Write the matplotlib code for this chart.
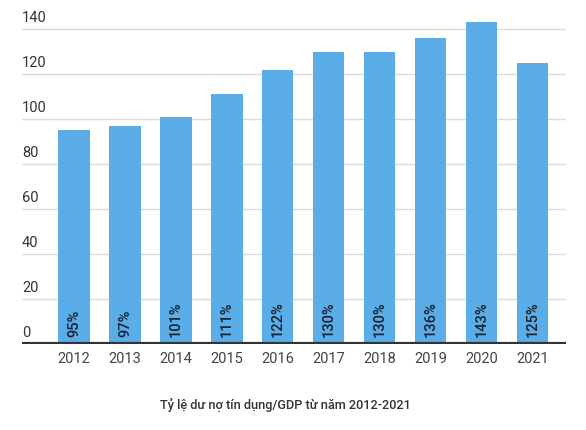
import matplotlib.pyplot as plt

plt.rcParams['font.family'] = ['Roboto', 'DejaVu Sans']

years = ['2012', '2013', '2014', '2015', '2016', '2017', '2018', '2019', '2020', '2021']
ratio = [95, 97, 101, 111, 122, 130, 130, 136, 143, 125]
yticks = [0, 20, 40, 60, 80, 100, 120, 140]
title = 'Tỷ lệ dư nợ tín dụng/GDP từ năm 2012-2021'

fig = plt.figure(figsize=(5.86, 4.30), dpi=100)
ax = fig.add_axes([22 / 586, 86 / 430, 544 / 586, 337.5 / 430])

x = list(range(len(years)))
ax.bar(x, ratio, width=0.61, color='#5aade6', zorder=2)

ax.set_xlim(-1.02, 9.65)
ax.set_ylim(0, 150)

# gridlines with labels sitting above them
for t in yticks[1:]:
    ax.axhline(t, color='#dcdcdc', lw=1, zorder=1)
for t in yticks:
    ax.text(0, t + 1.8, str(t), transform=ax.get_yaxis_transform(),
            ha='left', va='bottom', fontsize=10.5, color='#333333')
ax.axhline(0, color='#333333', lw=3, zorder=3)

for xi, v in zip(x, ratio):
    ax.text(xi, 3, f'{v}%', rotation=90, ha='center', va='bottom',
            fontsize=10.5, color='#17202e', fontweight='medium', zorder=4)

ax.set_xticks(x)
ax.set_xticklabels(years, fontsize=10.5, color='#444444')
ax.tick_params(axis='x', length=0, pad=6)
ax.set_yticks([])
for s in ax.spines.values():
    s.set_visible(False)

fig.text(285 / 586, 1 - 405 / 430, title, ha='center', va='center',
         fontsize=9.2, color='#333333', fontweight='medium')

fig.savefig('out.png', dpi=100)
